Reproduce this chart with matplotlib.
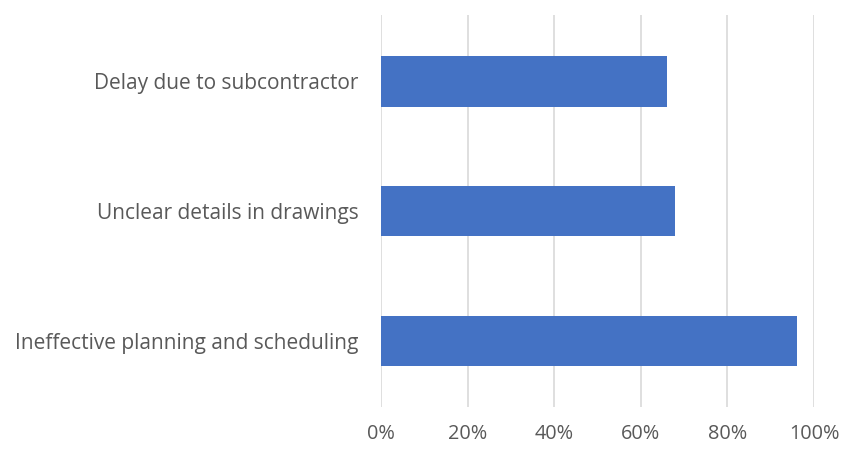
import matplotlib.pyplot as plt
from matplotlib.ticker import PercentFormatter

# Causes listed bottom to top
causes = ["Ineffective planning and scheduling",
          "Unclear details in drawings",
          "Delay due to subcontractor"]
shares = [96, 68, 66]
ticks = [0, 20, 40, 60, 80, 100]

text_color = "#595959"

fig = plt.figure(figsize=(8.46, 4.49), dpi=100)
ax = fig.add_axes([0.4504, 0.0935, 0.5118, 0.873])

ax.barh(range(len(causes)), shares, height=0.39, color="#4472C4", zorder=3)

ax.set_xlim(0, 100)
ax.set_ylim(-0.51, 2.51)
ax.set_xticks(ticks)
ax.xaxis.set_major_formatter(PercentFormatter(decimals=0))
ax.set_yticks(range(len(causes)))
ax.set_yticklabels(causes)

ax.grid(axis="x", color="#d9d9d9", linewidth=1.2, zorder=0)
for side in ax.spines.values():
    side.set_visible(False)
ax.tick_params(axis="both", length=0, colors=text_color)
ax.tick_params(axis="x", pad=12, labelsize=14.3)
ax.tick_params(axis="y", pad=16, labelsize=15)
for lbl in ax.get_xticklabels() + ax.get_yticklabels():
    lbl.set_family("Open Sans")

fig.savefig("out.png", dpi=100, facecolor="white")
